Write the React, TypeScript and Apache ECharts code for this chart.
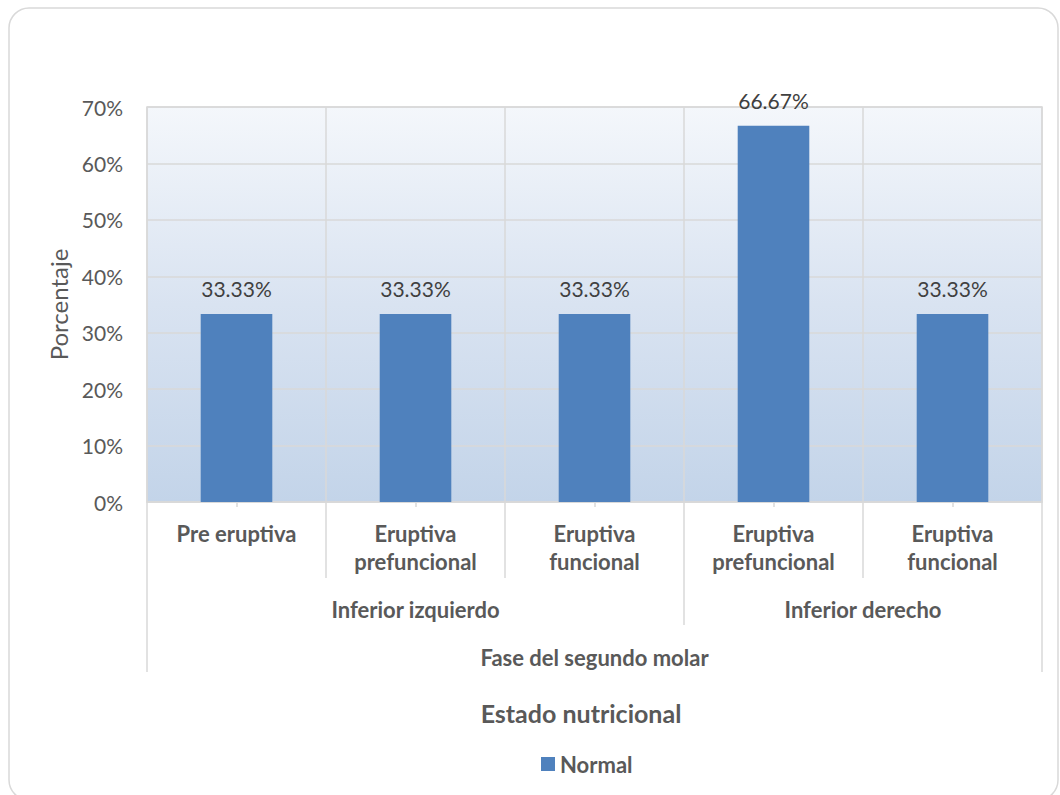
import React, { useEffect, useRef } from "react";
import * as echarts from "echarts";

// Second-molar phase per category (level 1), grouped by side (level 2)
const categories = [
  "Pre eruptiva",
  "Eruptiva\nprefuncional",
  "Eruptiva\nfuncional",
  "Eruptiva\nprefuncional",
  "Eruptiva\nfuncional",
];
const groups = [
  { name: "Inferior izquierdo", span: 3 },
  { name: "Inferior derecho", span: 2 },
];
const outerGroup = "Fase del segundo molar";
const normalValues = [33.33, 33.33, 33.33, 66.67, 33.33];
const seriesName = "Normal";
const yTicks = { min: 0, max: 70, interval: 10 };
const xTitle = "Estado nutricional";
const yTitle = "Porcentaje";

const FONT = "Lato, 'Open Sans', sans-serif";
const TEXT = "#595959";
const LINE = "#D9D9D9";
const BAR = "#4F81BD";

export default function App() {
  const ref = useRef<HTMLDivElement>(null);

  useEffect(() => {
    if (!ref.current) return;
    const chart = echarts.init(ref.current, undefined, { renderer: "svg" });

    const option: any = {
      animation: false,
      textStyle: { fontFamily: FONT },
      grid: {
        left: 147,
        right: 18,
        top: 107,
        bottom: 293,
        show: true,
        borderColor: LINE,
        borderWidth: 1.5,
        backgroundColor: new echarts.graphic.LinearGradient(0, 0, 0, 1, [
          { offset: 0, color: "#F4F7FB" },
          { offset: 0.5, color: "#D9E3F1" },
          { offset: 1, color: "#C3D4E9" },
        ]),
      },
      legend: {
        data: [seriesName],
        left: 536,
        top: 748,
        itemWidth: 14,
        itemHeight: 14,
        itemGap: 6,
        icon: "rect",
        textStyle: { fontFamily: FONT, fontSize: 22, fontWeight: "bold", color: TEXT },
      },
      xAxis: [
        {
          type: "category",
          data: categories,
          axisLine: { show: true, lineStyle: { color: LINE, width: 1.5 } },
          axisTick: {
            show: true,
            alignWithLabel: false,
            interval: 0,
            length: 76,
            lineStyle: { color: LINE, width: 1.5 },
          },
          splitLine: { show: true, interval: 0, lineStyle: { color: LINE, width: 1.5 } },
          axisLabel: {
            interval: 0,
            margin: 17,
            fontFamily: FONT,
            fontSize: 22,
            fontWeight: "bold",
            lineHeight: 28,
            color: TEXT,
          },
        },
        {
          type: "category",
          data: categories,
          position: "bottom",
          axisLine: { show: false },
          axisTick: {
            show: true,
            alignWithLabel: true,
            interval: 0,
            length: 5,
            lineStyle: { color: LINE, width: 1.5 },
          },
          axisLabel: { show: false },
          splitLine: { show: false },
        },
      ],
      yAxis: {
        type: "value",
        min: yTicks.min,
        max: yTicks.max,
        interval: yTicks.interval,
        axisLine: { show: false },
        axisTick: { show: false },
        splitLine: { show: true, lineStyle: { color: LINE, width: 1.5 } },
        axisLabel: {
          formatter: "{value}%",
          fontFamily: FONT,
          fontSize: 21,
          color: TEXT,
          margin: 24,
        },
        name: yTitle,
        nameLocation: "middle",
        nameGap: 77,
        nameRotate: 90,
        nameTextStyle: { fontFamily: FONT, fontSize: 24, color: TEXT },
      },
      series: [
        {
          name: seriesName,
          type: "bar",
          data: normalValues,
          barWidth: "40%",
          itemStyle: { color: BAR },
          label: {
            show: true,
            position: "top",
            distance: 15,
            formatter: (p: any) => `${Number(p.value).toFixed(2)}%`,
            fontFamily: FONT,
            fontSize: 21,
            color: "#404040",
          },
        },
      ],
    };
    chart.setOption(option);

    // Multi-level category axis: separators and group labels below level 1
    const c0 = chart.convertToPixel({ xAxisIndex: 0 }, 0) as number;
    const c1 = chart.convertToPixel({ xAxisIndex: 0 }, 1) as number;
    const band = c1 - c0;
    const edge = (i: number) => c0 - band / 2 + i * band;
    const level1Bottom = 502 + 76;
    const groupY = 609;
    const groupBottom = 625;
    const outerY = 657;
    const outerBottom = 672;

    const elements: any[] = [
      {
        type: "rect",
        shape: { x: 9, y: 8, width: 1049, height: 792, r: 20 },
        style: { fill: "none", stroke: LINE, lineWidth: 1.5 },
        silent: true,
        z: -10,
      },
    ];
    const last = categories.length;
    elements.push({
      type: "line",
      shape: { x1: edge(0), y1: level1Bottom, x2: edge(0), y2: outerBottom },
      style: { stroke: LINE, lineWidth: 1.5 },
    });
    elements.push({
      type: "line",
      shape: { x1: edge(last), y1: level1Bottom, x2: edge(last), y2: outerBottom },
      style: { stroke: LINE, lineWidth: 1.5 },
    });
    let start = 0;
    groups.forEach((g, gi) => {
      const end = start + g.span;
      if (gi < groups.length - 1) {
        elements.push({
          type: "line",
          shape: { x1: edge(end), y1: level1Bottom, x2: edge(end), y2: groupBottom },
          style: { stroke: LINE, lineWidth: 1.5 },
        });
      }
      elements.push({
        type: "text",
        x: (edge(start) + edge(end)) / 2,
        y: groupY,
        style: {
          text: g.name,
          align: "center",
          verticalAlign: "middle",
          font: `bold 22px ${FONT}`,
          fill: TEXT,
        },
      });
      start = end;
    });
    elements.push({
      type: "text",
      x: (edge(0) + edge(last)) / 2,
      y: outerY,
      style: {
        text: outerGroup,
        align: "center",
        verticalAlign: "middle",
        font: `bold 22px ${FONT}`,
        fill: TEXT,
      },
    });
    elements.push({
      type: "text",
      x: 581,
      y: 713,
      style: {
        text: xTitle,
        align: "center",
        verticalAlign: "middle",
        font: `bold 25px ${FONT}`,
        fill: TEXT,
      },
    });
    chart.setOption({ graphic: { elements } });

    return () => chart.dispose();
  }, []);

  return (
    <div
      ref={ref}
      style={{ position: "absolute", left: 0, top: 0, width: 1060, height: 795, background: "#fff" }}
    />
  );
}
